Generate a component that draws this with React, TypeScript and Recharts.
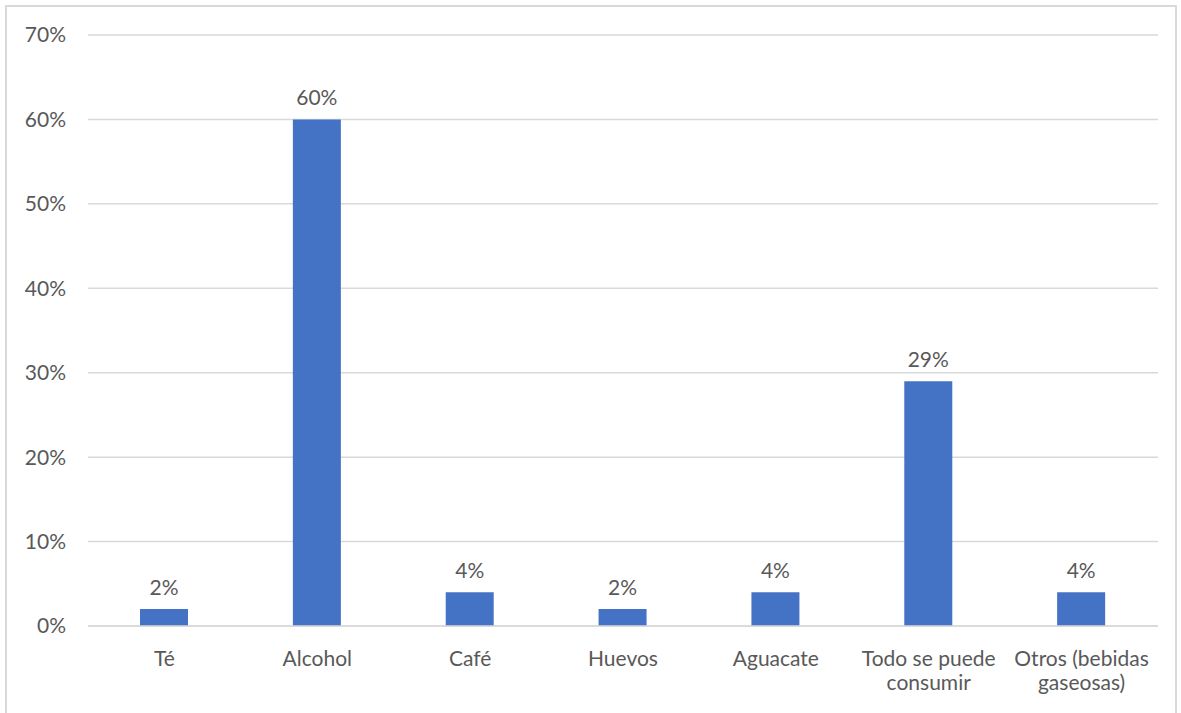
import { Bar, BarChart, CartesianGrid, LabelList, XAxis, YAxis } from 'recharts';

const categories = ['Té', 'Alcohol', 'Café', 'Huevos', 'Aguacate', 'Todo se puede consumir', 'Otros (bebidas gaseosas)'];
const shares = [0.02, 0.6, 0.04, 0.02, 0.04, 0.29, 0.04];
const yTicks = [0, 0.1, 0.2, 0.3, 0.4, 0.5, 0.6, 0.7];

const data = categories.map((name, i) => ({ name, value: shares[i] }));

const FONT = 'Lato, "Open Sans", sans-serif';
const TEXT = '#595959';
const SIZE = 21;

const pct = (v: number) => `${Math.round(v * 100)}%`;

function wrap(label: string, max = 14) {
  const lines: string[] = [];
  let cur = '';
  for (const w of label.split(' ')) {
    const next = cur ? `${cur} ${w}` : w;
    if (next.length > max && cur) {
      lines.push(cur);
      cur = w;
    } else {
      cur = next;
    }
  }
  if (cur) lines.push(cur);
  return lines;
}

function CategoryTick({ x, y, payload }: any) {
  const lines = wrap(payload.value);
  return (
    <text x={x} y={y} textAnchor="middle" fill={TEXT} fontSize={SIZE} fontFamily={FONT}>
      {lines.map((l, i) => (
        <tspan key={i} x={x} dy={i === 0 ? 32 : 24}>
          {l}
        </tspan>
      ))}
    </text>
  );
}

export default function App() {
  return (
    <div style={{ position: 'absolute', left: 0, top: 0, width: 1181, height: 713, overflow: 'hidden', background: '#fff' }}>
      <div
        style={{
          position: 'absolute',
          left: 5,
          top: 5,
          width: 1172,
          height: 740,
          border: '2px solid #d9d9d9',
          boxSizing: 'border-box',
        }}
      />
      <div style={{ position: 'absolute', left: 0, top: 0 }}>
        <BarChart width={1181} height={713} data={data} margin={{ top: 35, right: 23, left: 0, bottom: 0 }} barSize={48}>
          <CartesianGrid vertical={false} stroke="#d9d9d9" strokeWidth={1.5} />
          <XAxis
            dataKey="name"
            height={87}
            interval={0}
            axisLine={{ stroke: '#d9d9d9', strokeWidth: 1.5 }}
            tickLine={false}
            tick={<CategoryTick />}
          />
          <YAxis
            width={88}
            domain={[0, 0.7]}
            ticks={yTicks}
            tickFormatter={pct}
            axisLine={false}
            tickLine={false}
            tickSize={0}
            tickMargin={22}
            tick={{ fill: TEXT, fontSize: SIZE, fontFamily: FONT }}
          />
          <Bar dataKey="value" fill="#4472c4" isAnimationActive={false}>
            <LabelList
              dataKey="value"
              position="top"
              offset={14}
              formatter={(v: any) => pct(Number(v))}
              fill={TEXT}
              fontSize={SIZE}
              fontFamily={FONT}
            />
          </Bar>
        </BarChart>
      </div>
    </div>
  );
}
